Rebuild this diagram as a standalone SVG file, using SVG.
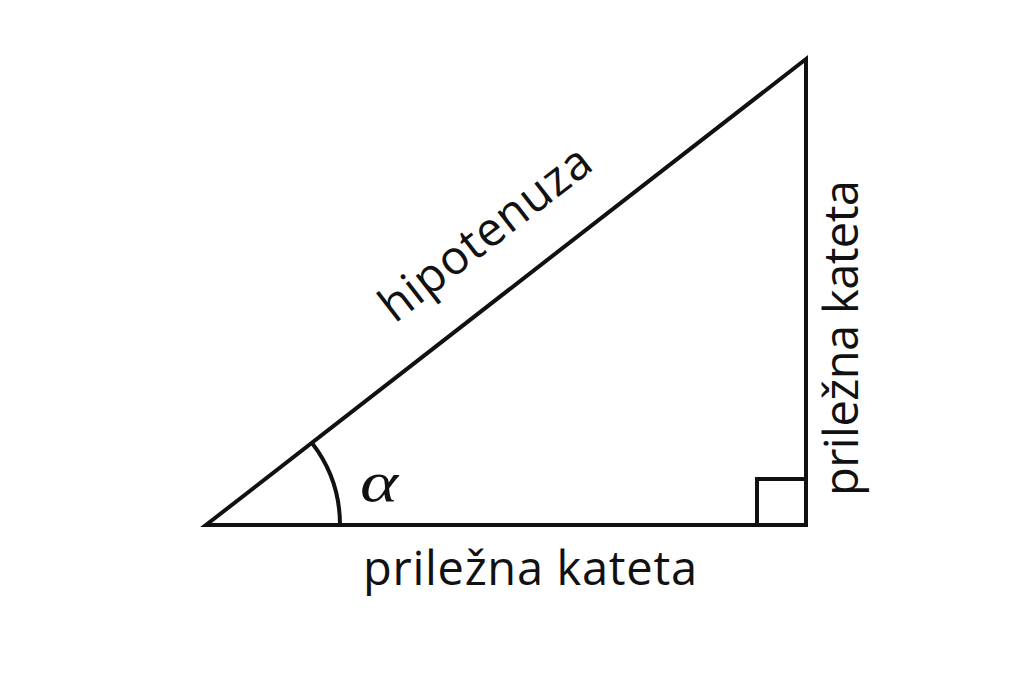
<svg xmlns="http://www.w3.org/2000/svg" width="1024" height="683" viewBox="0 0 1024 683">
<style>
.ln{fill:none;stroke:#111;stroke-width:4;stroke-linejoin:miter;stroke-miterlimit:20}
.lbl{font-family:"Open Sans","Noto Sans","Liberation Sans",sans-serif;font-size:47px;fill:#111}
.greek{font-family:"Liberation Serif","DejaVu Serif",serif;font-style:italic;font-size:58px;fill:#111}
</style>
<rect width="1024" height="683" fill="#fff"/>
<g id="triangle">
<polygon class="ln" points="206,525 806,525 806,59"/>
</g>
<g id="connectors">
<path id="angle-arc" class="ln" stroke-width="3.5" d="M340,525 A134,134 0 0 0 311.8,442.8"/>
<rect id="right-angle" class="ln" x="757" y="479" width="49" height="46"/>
</g>
<g id="label-alpha">
<text class="greek" transform="translate(360,501) scale(1.25,1)">α</text>
</g>
<g id="label-hypotenuse">
<text class="lbl" transform="translate(495,246) rotate(-37.83)" text-anchor="middle" textLength="254" lengthAdjust="spacing">hipotenuza</text>
</g>
<g id="label-bottom">
<text class="lbl" x="530" y="585" text-anchor="middle" textLength="334" lengthAdjust="spacing">priležna kateta</text>
</g>
<g id="label-right">
<text class="lbl" transform="translate(858,338) rotate(-90)" text-anchor="middle" textLength="316" lengthAdjust="spacing">priležna kateta</text>
</g>
</svg>
